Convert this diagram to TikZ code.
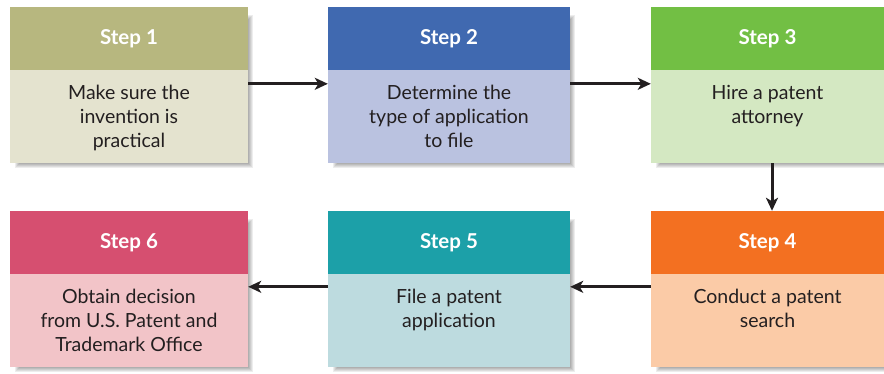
\documentclass[tikz,border=0pt]{standalone}
\usepackage{fontspec}
\setmainfont{Lato}
\usetikzlibrary{arrows.meta,calc}
\definecolor{ink}{HTML}{231F20}
\definecolor{hA}{HTML}{B7B77F}\definecolor{bA}{HTML}{E4E3CF}
\definecolor{hB}{HTML}{4069B0}\definecolor{bB}{HTML}{BAC2E0}
\definecolor{hC}{HTML}{72BF44}\definecolor{bC}{HTML}{D4E8C2}
\definecolor{hD}{HTML}{F37021}\definecolor{bD}{HTML}{FBCBA7}
\definecolor{hE}{HTML}{1CA0A8}\definecolor{bE}{HTML}{BDDBDF}
\definecolor{hF}{HTML}{D64F70}\definecolor{bF}{HTML}{F2C4C8}
\tikzset{
  hdr/.style={rectangle,draw=none,inner sep=0pt,text=white,font=\fontsize{20.5}{22}\selectfont\bfseries},
  bdy/.style={rectangle,draw=none,inner sep=0pt},
  txt/.style={inner sep=0pt,align=center,text=ink,font=\fontsize{19.5}{24}\selectfont},
  arr/.style={draw=ink,line width=3pt,-{Stealth[length=13pt,width=12pt,inset=3.5pt]}},
}
\newcommand\mkstep[9]{%
  \foreach \d in {0,...,4}
    \fill[black,opacity=0.07] ({#2+9-\d},{#3+12-\d}) rectangle ({#4+1+\d},{#6+1+\d});
  \node[hdr,fill=#7,minimum width={#4-#2},minimum height={#5-#3}] (h#1) at ({(#2+#4)/2},{(#3+#5)/2}) {#9};
  \node[bdy,fill=#8,minimum width={#4-#2},minimum height={#6-#5}] (b#1) at ({(#2+#4)/2},{(#5+#6)/2}) {};
}
\begin{document}
\begin{tikzpicture}[x=1pt,y=-1pt]
\useasboundingbox[fill=white] (0,0) rectangle (884,373);
\mkstep{1}{10}{7}{248}{70}{163}{hA}{bA}{Step 1}
\mkstep{2}{328}{7}{570}{70}{163}{hB}{bB}{Step 2}
\mkstep{3}{651}{7}{884}{70}{163}{hC}{bC}{Step 3}
\mkstep{4}{651}{211}{884}{274}{367}{hD}{bD}{Step 4}
\mkstep{5}{328}{211}{570}{274}{367}{hE}{bE}{Step 5}
\mkstep{6}{10}{211}{248}{274}{367}{hF}{bF}{Step 6}
\node[txt,anchor=north] (t1) at ($(b1.north)+(0,15)$) {Make sure the\\invention is\\practical};
\node[txt,anchor=north] (t2) at ($(b2.north)+(0,15)$) {Determine the\\type of application\\to file};
\node[txt,anchor=north] (t3) at ($(b3.north)+(0,15)$) {Hire a patent\\attorney};
\node[txt,anchor=north] (t4) at ($(b4.north)+(0,15)$) {Conduct a patent\\search};
\node[txt,anchor=north] (t5) at ($(b5.north)+(0,15)$) {File a patent\\application};
\node[txt,anchor=north] (t6) at ($(b6.north)+(0,15)$) {Obtain decision\\from U.S. Patent and\\Trademark Office};
\draw[arr] ($(b1.north east)+(0,14)$) -- ($(b2.north west)+(0,14)$);
\draw[arr] ($(b2.north east)+(0,14)$) -- ($(b3.north west)+(0,14)$);
\draw[arr] ($(b3.south)+(4.5,0)$) -- ($(h4.north)+(4.5,0)$);
\draw[arr] ($(b4.north west)+(0,13)$) -- ($(b5.north east)+(0,13)$);
\draw[arr] ($(b5.north west)+(0,13)$) -- ($(b6.north east)+(0,13)$);
\end{tikzpicture}
\end{document}
